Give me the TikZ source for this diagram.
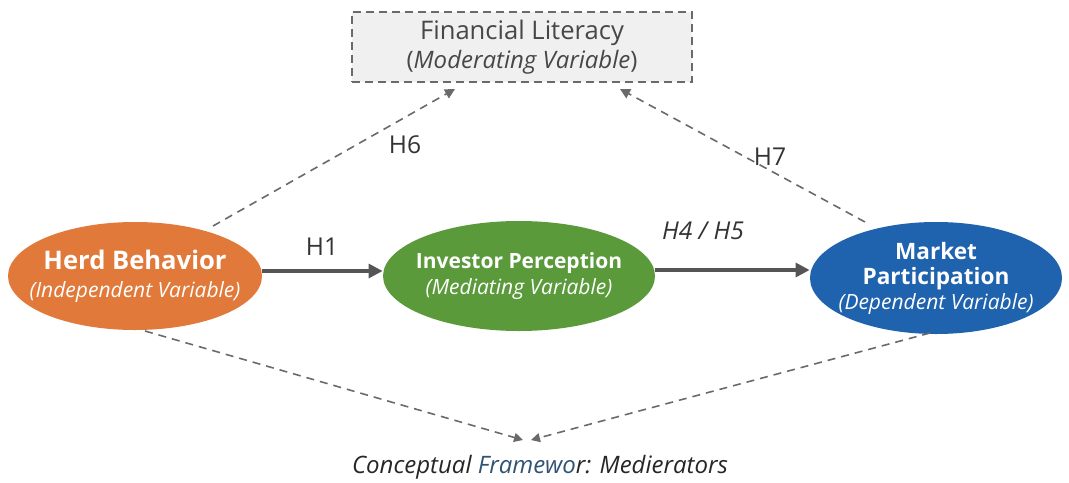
\documentclass[tikz,border=0pt]{standalone}
\usepackage{fontspec}
\setmainfont{Open Sans}
\usepackage{tikz}
\usetikzlibrary{shapes, arrows.meta, positioning, calc}
\definecolor{herdorange}{HTML}{E0793A}
\definecolor{percgreen}{HTML}{5A9A3B}
\definecolor{partblue}{HTML}{1F62AE}
\definecolor{arrowgray}{HTML}{555555}
\definecolor{dashgray}{HTML}{6A6A6A}
\definecolor{capblue}{HTML}{2F5374}
\newcommand{\bigtext}[1]{{\fontsize{12.8}{15}\selectfont #1}}
\begin{document}
\begin{tikzpicture}[x=0.5pt, y=-0.5pt,
		varnode/.style={ellipse, draw=none, text=white, align=center, font=\fontsize{10.5}{13}\selectfont, inner sep=-8pt},
		mainarrow/.style={-{Triangle[length=7pt, width=7pt]}, line width=1.6pt, arrowgray},
		dasharrow/.style={-{Triangle[length=5pt, width=5pt]}, dashed, dash pattern=on 4pt off 3pt, line width=0.8pt, dashgray},
		hlabel/.style={font=\fontsize{12.3}{14}\selectfont, text=black!80}]
			\useasboundingbox (0,0) rectangle (1069,482);
			
			% Draw Moderator Box
			\node[draw=dashgray, dashed, dash pattern=on 4pt off 2.5pt, line width=0.8pt, fill=gray!12, minimum width=170pt, minimum height=35pt, align=center, text=black!72, font=\fontsize{12}{14.5}\selectfont] (literacy) at (522,47) {\bigtext{Financial Literacy}\\(\textit{Moderating Variable})};
			
			% Draw Variables
			\node[varnode, fill=herdorange, minimum width=127pt, minimum height=54pt] (herd) at (135,276) {\textbf{\bigtext{Herd Behavior}}\\[1pt]\textit{(Independent Variable)}};
			\node[varnode, fill=percgreen, minimum width=136pt, minimum height=55pt] (perception) at (519,276) {\textbf{Investor Perception}\\\textit{(Mediating Variable)}};
			\node[varnode, fill=partblue, minimum width=126pt, minimum height=56pt, font=\fontsize{10.5}{12.5}\selectfont] (participation) at (936,278) {\textbf{\fontsize{11.3}{13.5}\selectfont Market}\\\textbf{\fontsize{11.3}{13.5}\selectfont Participation}\\\textit{(Dependent Variable)}};
			
			% Direct Paths
			\draw[mainarrow] (herd.east |- 0,271) -- (perception.west |- 0,271);
			\node[hlabel] at (322,247) {H1};
			\draw[mainarrow] (perception.east |- 0,270) -- (participation.west |- 0,270);
			\node[hlabel] at (703,231) {\textit{H4 / H5}};
			
			% Moderating Paths
			\coordinate (herdtop) at (213,226);
			\coordinate (parttop) at (865,222);
			\draw[dasharrow] (herdtop) -- (455,89);
			\node[hlabel] at (405,145) {H6};
			\draw[dasharrow] (parttop) -- (620,89);
			\node[hlabel] at (770,157) {H7};
			
			% Mediator Paths (bottom)
			\coordinate (herdbot) at (145,331);
			\coordinate (partbot) at (930,333);
			\coordinate (meetleft) at (523,440);
			\coordinate (meetright) at (531,440);
			\draw[dasharrow, -{Triangle[length=4.5pt, width=4.5pt]}] (herdbot) -- (meetleft);
			\draw[dasharrow, -{Triangle[length=4.5pt, width=4.5pt]}] (partbot) -- (meetright);
			
			% Caption
			\node[font=\fontsize{12}{14}\selectfont\itshape, text=black!85] (caption) at (540,467) {Conceptual \textcolor{capblue}{Framewo}r: Medierators};
		\end{tikzpicture}
\end{document}
